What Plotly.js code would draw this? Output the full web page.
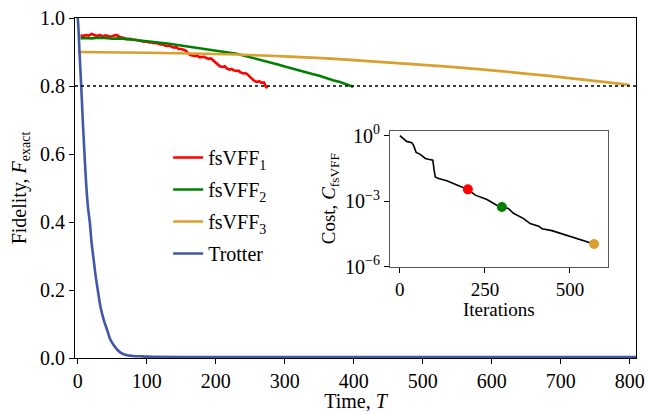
<!DOCTYPE html>
<html>
<head>
<meta charset="utf-8">
<script src="https://cdn.plot.ly/plotly-3.0.1.min.js"></script>
<style>html,body{margin:0;padding:0;background:#fff;}#chart{width:648px;height:412px;}</style>
</head>
<body>
<div id="chart"></div>
<script>
// ---- main panel data ----
const redT = [4,8,12,16,20,24,28,32,36,40,44,48,52,56,60,64,68,72,76,80,84,88,92,96,100,103,106,110,113,116,120,123,126,130,133,136,140,143,146,150,153,156,160,163,166,170,173,176,180,183,186,190,193,196,200,203,206,210,213,216,220,223,226,230,233,236,240,243,246,250,253,256,260,263,266,270,272,275];
const redF = [.949,.947,.950,.948,.953,.949,.947,.950,.946,.949,.947,.945,.948,.950,.945,.943,.941,.938,.939,.936,.936,.934,.931,.930,.931,.928,.929,.926,.927,.924,.922,.923,.919,.918,.919,.915,.913,.914,.909,.909,.906,.905,.896,.891,.890,.888,.890,.885,.885,.886,.882,.880,.881,.876,.870,.864,.858,.856,.858,.852,.848,.850,.846,.844,.845,.840,.837,.838,.834,.826,.820,.815,.812,.814,.810,.810,.800,.794];

const greenT = [4,10,20,30,40,50,60,70,80,90,100,110,120,130,140,150,160,170,180,190,200,210,220,230,240,250,260,270,280,290,300,310,320,330,340,350,360,370,380,390,395,399];
const greenF = [.940,.941,.940,.942,.941,.939,.940,.937,.936,.934,.931,.929,.927,.925,.922,.920,.917,.914,.911,.908,.905,.901,.898,.895,.890,.885,.879,.873,.868,.863,.857,.851,.846,.841,.835,.830,.823,.817,.812,.806,.801,.797];

const goldT = [0,100,200,300,400,500,600,700,800];
const goldF = [.900,.898,.894,.887,.876,.862,.846,.826,.803];

const trotT = [0,1,2.5,5,7,9,12.6,15,17.4,20,23,26,29,33,38,43,47,52,57,62,70,80,90,100,150,200,300,400,500,600,700,809];
const trotF = [1.0,.97,.90,.80,.71,.63,.50,.44,.40,.34,.29,.24,.20,.15,.11,.08,.055,.038,.025,.016,.009,.006,.005,.004,.003,.003,.003,.003,.003,.003,.003,.003];

// ---- inset data ----
const iters = [0,11,20,35,40,44,48,60,75,84,97,100,102,104,114,138,168,199,222,256,285,300,319,334,364,383,408,418,447,491,530,571];
const cost = [1.0,0.68,0.55,0.48,0.37,0.25,0.17,0.14,0.091,0.083,0.076,0.032,0.014,0.013,0.011,8.7e-3,5.5e-3,3.5e-3,1.9e-3,1.2e-3,6.6e-4,5.4e-4,4.7e-4,2.8e-4,1.6e-4,9.5e-5,7.2e-5,5.5e-5,4.5e-5,2.8e-5,1.7e-5,1.1e-5];
const dotIters = [200, 300, 571];
const dotCost = [3.5e-3, 5.4e-4, 1.1e-5];

const xTicks = [0,100,200,300,400,500,600,700,800];
const yTicks = [0,0.2,0.4,0.6,0.8,1.0];
const yTickText = ['0.0','0.2','0.4','0.6','0.8','1.0'];
const insetXTicks = [0,250,500];
const insetYTicks = [1,1e-3,1e-6];
const insetYText = ['10<sup>0</sup>','10<sup>−3</sup>','10<sup>−6</sup>'];

const RED = '#ff0000', GREEN = '#008000', GOLD = '#DAA02E', BLUE = '#4157a8';
const FONT = 'Liberation Serif';

const traces = [
  {x: redT, y: redF, mode: 'lines', name: 'fsVFF<sub>1</sub>', legendgroup: 'a', line: {color: RED, width: 2.6}},
  {x: greenT, y: greenF, mode: 'lines', name: 'fsVFF<sub>2</sub>', legendgroup: 'b', line: {color: GREEN, width: 2.6}},
  {x: goldT, y: goldF, mode: 'lines', name: 'fsVFF<sub>3</sub>', legendgroup: 'c', line: {color: GOLD, width: 2.6, shape: 'spline'}},
  {x: trotT, y: trotF, mode: 'lines', name: 'Trotter', legendgroup: 'd', line: {color: BLUE, width: 2.6, shape: 'spline'}},
  {x: iters, y: cost, xaxis: 'x2', yaxis: 'y2', mode: 'lines', showlegend: false, line: {color: '#000', width: 1.6}},
  {x: dotIters, y: dotCost, xaxis: 'x2', yaxis: 'y2', mode: 'markers', showlegend: false,
   marker: {color: [RED, GREEN, GOLD], size: 10}}
];

const axisCommon = {showgrid: false, zeroline: false, showline: true, mirror: true, linecolor: '#000', linewidth: 1,
  ticks: 'outside', ticklen: 5, tickwidth: 1, tickcolor: '#000', tickfont: {family: FONT, size: 20, color: '#000'}};

const layout = {
  width: 648, height: 412,
  margin: {l: 75, r: 12, t: 18, b: 54},
  paper_bgcolor: '#fff', plot_bgcolor: '#fff',
  font: {family: FONT, size: 20, color: '#000'},
  xaxis: Object.assign({}, axisCommon, {range: [-4, 809], tickvals: xTicks, domain: [0, 1],
    title: {text: 'Time, <i>T</i>', font: {family: FONT, size: 20}, standoff: 4}}),
  yaxis: Object.assign({}, axisCommon, {range: [0, 1], tickvals: yTicks, ticktext: yTickText, domain: [0, 1],
    title: {text: 'Fidelity, <i>F</i><sub>exact</sub>', font: {family: FONT, size: 20}, standoff: 8}}),
  xaxis2: Object.assign({}, axisCommon, {anchor: 'y2', domain: [0.5615, 0.9495], range: [-29, 611], tickvals: insetXTicks,
    linecolor: '#555', tickfont: {family: FONT, size: 19, color: '#000'},
    title: {text: 'Iterations', font: {family: FONT, size: 19}, standoff: 2}}),
  yaxis2: Object.assign({}, axisCommon, {anchor: 'x2', domain: [0.2685, 0.6685], type: 'log', range: [-6, 0.23],
    tickvals: insetYTicks, ticktext: insetYText, linecolor: '#555', tickfont: {family: FONT, size: 20, color: '#000'},
    title: {text: 'Cost, <i>C</i><sub>fsVFF</sub>', font: {family: FONT, size: 19}, standoff: 4}}),
  showlegend: true,
  legend: {x: 0.166, y: 0.647, xanchor: 'left', yanchor: 'top', bgcolor: 'rgba(0,0,0,0)', borderwidth: 0,
    font: {family: FONT, size: 20}, traceorder: 'grouped', tracegroupgap: 3},
  shapes: [{type: 'line', xref: 'paper', x0: 0, x1: 1, yref: 'y', y0: 0.8, y1: 0.8,
    line: {color: '#000', width: 1.5, dash: 'dot'}}]
};

Plotly.newPlot('chart', traces, layout, {displayModeBar: false, staticPlot: true});
</script>
</body>
</html>
